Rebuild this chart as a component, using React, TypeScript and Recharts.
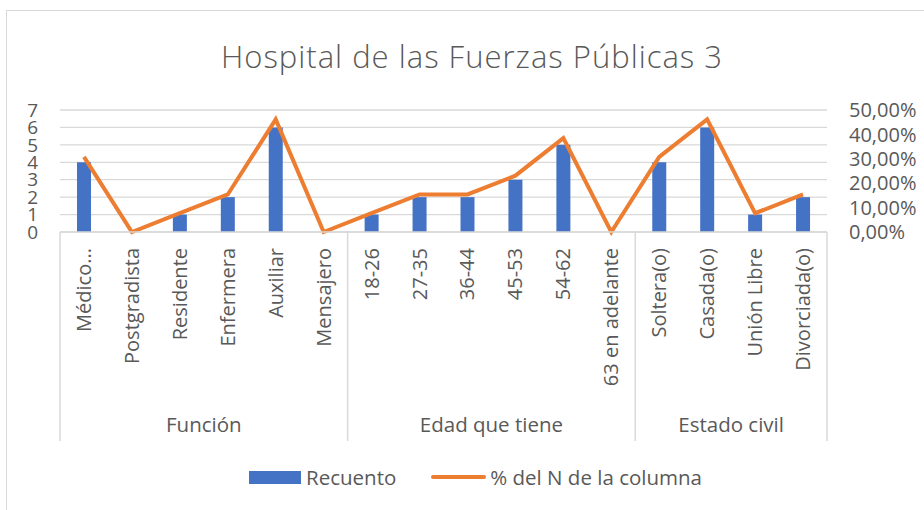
import React from 'react';
import { ComposedChart, Bar, Line, XAxis, YAxis, CartesianGrid } from 'recharts';

const categories = ['Médico...', 'Postgradista', 'Residente', 'Enfermera', 'Auxiliar', 'Mensajero', '18-26', '27-35', '36-44', '45-53', '54-62', '63 en adelante', 'Soltera(o)', 'Casada(o)', 'Unión Libre', 'Divorciada(o)'];
const recuento = [4, 0, 1, 2, 6, 0, 1, 2, 2, 3, 5, 0, 4, 6, 1, 2];
const porcentaje = [0.3077, 0, 0.0769, 0.1538, 0.4615, 0, 0.0769, 0.1538, 0.1538, 0.2308, 0.3846, 0, 0.3077, 0.4615, 0.0769, 0.1538];
const groupNames = ['Función', 'Edad que tiene', 'Estado civil'];
const groupSizes = [6, 6, 4];
const leftTicks = [0, 1, 2, 3, 4, 5, 6, 7];
const rightTicks = [0, 0.1, 0.2, 0.3, 0.4, 0.5];

const data = categories.map((name, i) => ({ name, recuento: recuento[i], pct: porcentaje[i] }));

const groupStarts: number[] = [];
{
  let acc = 0;
  groupSizes.forEach((s) => { groupStarts.push(acc); acc += s; });
}

const TEXT = '#595959';
const GRID = '#D9D9D9';
const FONT = '"Open Sans", sans-serif';

const CategoryTick = (props: any) => {
  const { x, y, payload, index } = props;
  const half = payload && payload.offset ? payload.offset : 24;
  const gi = groupStarts.indexOf(index);
  const isLast = index === categories.length - 1;
  return (
    <g>
      <text transform={`translate(${x + 7}, ${y + 16}) rotate(-90)`} textAnchor="end" fontSize={20} fill={TEXT} fontFamily={FONT}>
        {payload.value}
      </text>
      {gi >= 0 && (
        <>
          <line x1={x - half} x2={x - half} y1={y} y2={y + 209} stroke={GRID} strokeWidth={1.5} />
          <text x={x - half + groupSizes[gi] * half} y={y + 200} textAnchor="middle" fontSize={20.5} fill={TEXT} fontFamily={FONT}>
            {groupNames[gi]}
          </text>
        </>
      )}
      {isLast && <line x1={x + half} x2={x + half} y1={y} y2={y + 209} stroke={GRID} strokeWidth={1.5} />}
    </g>
  );
};

const fmtPct = (v: number) => (v * 100).toFixed(2).replace('.', ',') + '%';

export default function App() {
  return (
    <div style={{ position: 'absolute', left: 0, top: 0, width: 924, height: 510, overflow: 'hidden', background: '#fff', fontFamily: FONT }}>
      <div style={{ position: 'absolute', left: 6, top: 10, width: 940, height: 520, borderLeft: `1.5px solid ${GRID}`, borderTop: `1.5px solid ${GRID}` }} />
      <div style={{ position: 'absolute', left: 0, top: 35, width: 944, textAlign: 'center', fontSize: 31, fontWeight: 300, letterSpacing: 1, color: TEXT, fontFamily: FONT }}>
        Hospital de las Fuerzas Públicas 3
      </div>
      <div style={{ position: 'absolute', left: 0, top: 0 }}>
        <ComposedChart width={924} height={510} data={data} margin={{ top: 110, right: 0, bottom: 0, left: 0 }}>
          <CartesianGrid yAxisId="left" vertical={false} stroke={GRID} strokeWidth={1.3} />
          <XAxis dataKey="name" interval={0} height={278} tickLine={false} tickSize={0} tickMargin={0} axisLine={{ stroke: GRID, strokeWidth: 1.5 }} tick={<CategoryTick />} />
          <YAxis yAxisId="left" domain={[0, 7]} ticks={leftTicks} interval={0} width={60} axisLine={false} tickLine={false} tickMargin={16} tick={{ fontSize: 19, fill: TEXT, fontFamily: FONT }} />
          <YAxis yAxisId="right" orientation="right" domain={[0, 0.5]} ticks={rightTicks} interval={0} width={97} axisLine={false} tickLine={false} tickMargin={16} tickFormatter={fmtPct} tick={{ fontSize: 20, fill: TEXT, fontFamily: FONT, textAnchor: 'start' }} />
          <Bar yAxisId="left" dataKey="recuento" fill="#4472C4" barSize={14} isAnimationActive={false} />
          <Line yAxisId="right" dataKey="pct" type="linear" stroke="#ED7D31" strokeWidth={4} dot={false} activeDot={false} isAnimationActive={false} />
        </ComposedChart>
      </div>
      <div style={{ position: 'absolute', left: 249, top: 463, display: 'flex', alignItems: 'center', fontSize: 20.5, color: TEXT, fontFamily: FONT, whiteSpace: 'nowrap' }}>
        <span style={{ display: 'inline-block', width: 52, height: 13, background: '#4472C4', marginRight: 5 }} />
        <span>Recuento</span>
        <span style={{ display: 'inline-block', width: 55, height: 4, borderRadius: 2, background: '#ED7D31', marginLeft: 35, marginRight: 4 }} />
        <span>% del N de la columna</span>
      </div>
    </div>
  );
}
